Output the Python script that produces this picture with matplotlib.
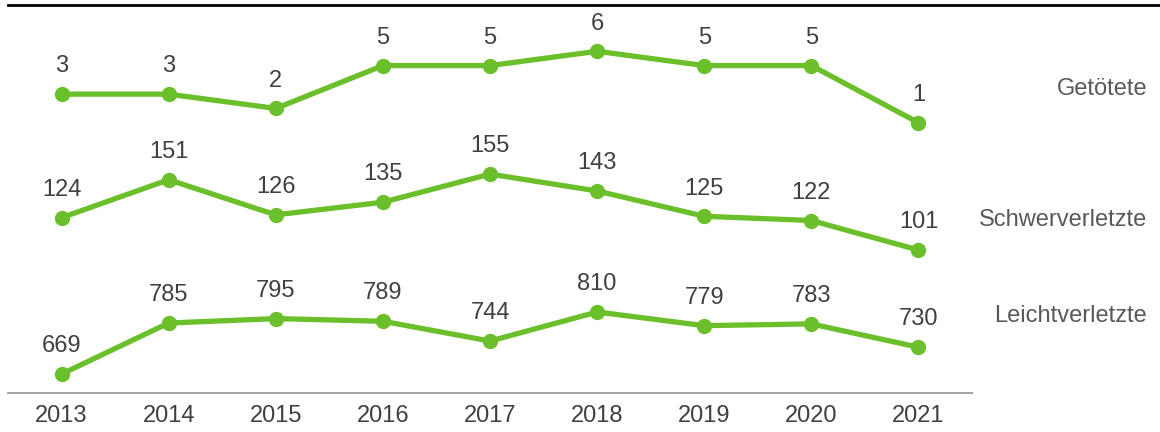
import matplotlib
matplotlib.use("Agg")
import matplotlib.pyplot as plt
from matplotlib.lines import Line2D

plt.rcParams["font.family"] = ["Liberation Sans", "DejaVu Sans"]

years = [2013, 2014, 2015, 2016, 2017, 2018, 2019, 2020, 2021]
getoetete = [3, 3, 2, 5, 5, 6, 5, 5, 1]
schwerverletzte = [124, 151, 126, 135, 155, 143, 125, 122, 101]
leichtverletzte = [669, 785, 795, 789, 744, 810, 779, 783, 730]
series_names = ["Getötete", "Schwerverletzte", "Leichtverletzte"]

GREEN = "#6abf2a"
TEXT = "#404040"
LABEL = "#595959"
FS = 17

W, H = 1160, 432
fig = plt.figure(figsize=(W / 100, H / 100), dpi=100)


def px_axes(top, bottom, left=8, right=972):
    return fig.add_axes([left / W, 1 - bottom / H, (right - left) / W, (bottom - top) / H])


# (values, ylim, pixel top, pixel bottom, label y)
bands = [
    (getoetete, (0, 7), 37, 137, 89),
    (schwerverletzte, (90, 170), 153, 265.5, 220),
    (leichtverletzte, (626, 850), 294.4, 393, 316),
]

for i, (vals, ylim, top, bottom, label_y) in enumerate(bands):
    ax = px_axes(top, bottom)
    ax.patch.set_alpha(0)
    ax.plot(years, vals, color=GREEN, linewidth=3.8, marker="o", markersize=10,
            solid_capstyle="round", clip_on=False)
    for x, v in zip(years, vals):
        ax.annotate(f"{v}", (x, v), xytext=(0, 20), textcoords="offset points",
                    ha="center", va="center", fontsize=FS, color=TEXT)
    ax.set_xlim(2012.5, 2021.5)
    ax.set_ylim(*ylim)
    ax.set_yticks([])
    for s in ["top", "right", "left", "bottom"]:
        ax.spines[s].set_visible(False)
    if i == 2:
        ax.spines["bottom"].set_visible(True)
        ax.spines["bottom"].set_color("#a6a6a6")
        ax.spines["bottom"].set_linewidth(1.5)
        ax.set_xticks(years)
        ax.set_xticklabels([str(y) for y in years], fontsize=FS, color=TEXT)
        ax.tick_params(axis="x", length=0, pad=8.5)
    else:
        ax.set_xticks([])
    fig.text(1147 / W, 1 - label_y / H, series_names[i], ha="right", va="center",
             fontsize=FS, color=LABEL)

fig.add_artist(Line2D([8 / W, 1.0], [1 - 5 / H, 1 - 5 / H], color="black", linewidth=2))

plt.savefig("out.png", dpi=100)
